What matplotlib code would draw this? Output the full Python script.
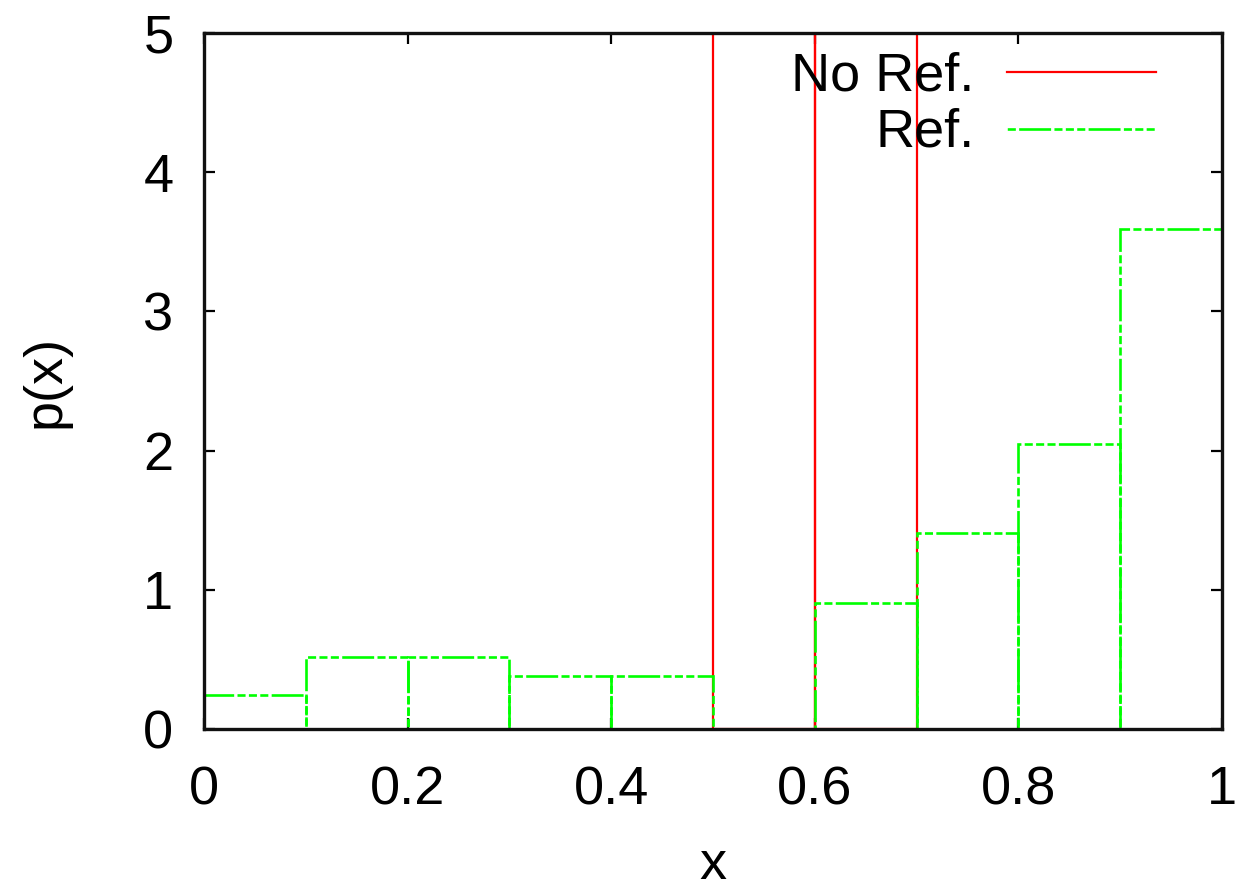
import matplotlib
matplotlib.use("Agg")
import matplotlib.pyplot as plt
import numpy as np

# Data
bin_edges = [0.0, 0.1, 0.2, 0.3, 0.4, 0.5, 0.6, 0.7, 0.8, 0.9, 1.0]
ref_heights = [0.245, 0.52, 0.52, 0.38, 0.38, 0.0, 0.905, 1.41, 2.05, 3.59]
noref_left = [0.5, 0.6]
noref_heights = [5.0, 5.0]
series_labels = ["No Ref.", "Ref."]
x_ticks = [0, 0.2, 0.4, 0.6, 0.8, 1.0]
x_ticklabels = ["0", "0.2", "0.4", "0.6", "0.8", "1"]
y_ticks = [0, 1, 2, 3, 4, 5]

plt.rcParams['font.family'] = ['Liberation Sans', 'DejaVu Sans']
plt.rcParams['lines.scale_dashes'] = False

W, H = 1239, 891
fig = plt.figure(figsize=(W / 100, H / 100), dpi=100)
ax = fig.add_axes([204 / W, 1 - 729 / H, (1222 - 204) / W, (729 - 33) / H])

red = "#ff0000"
green = "#00ff00"
pat = (23, 2.4, 5.8, 2.4, 5.8, 2.4, 5.8, 2.4)
green_ls = (0, pat)
green_ls_legend = (41.6, pat)

FS = 39

ax.bar(noref_left, noref_heights, width=0.1, align='edge', fill=False,
       edgecolor=red, linewidth=1.6, zorder=2)
ax.bar(bin_edges[:-1], ref_heights, width=0.1, align='edge', fill=False,
       edgecolor=green, linewidth=1.9, linestyle=green_ls, zorder=3)

ax.set_xlim(0, 1)
ax.set_ylim(0, 5)
ax.set_xticks(x_ticks)
ax.set_xticklabels(x_ticklabels)
ax.set_yticks(y_ticks)
ax.tick_params(direction='in', length=8, width=1.6, top=True, right=True,
               labelsize=FS)
ax.tick_params(axis='x', pad=26)
ax.tick_params(axis='y', pad=22)
for s in ax.spines.values():
    s.set_linewidth(2.4)
    s.set_color("#111111")
    s.set_zorder(5)

ax.set_xlabel("x", fontsize=FS)
ax.set_ylabel("p(x)", fontsize=FS)
ax.xaxis.set_label_coords(0.5, (729 - 840) / 696)
ax.yaxis.set_label_coords((71 - 204) / 1018, 0.5)

# Legend (gnuplot style: right-aligned text then sample line)
base_y = [0.918, 0.837]
line_y = [0.944, 0.862]
styles = [dict(color=red, lw=1.6, linestyle='-'),
          dict(color=green, lw=1.9, linestyle=green_ls_legend)]
for lab, by, ly, st in zip(series_labels, base_y, line_y, styles):
    ax.text(0.757, by, lab, transform=ax.transAxes, ha='right', va='baseline',
            fontsize=FS, zorder=6)
    ax.plot([0.789, 0.935], [ly, ly], transform=ax.transAxes, clip_on=False,
            zorder=6, **st)

fig.savefig("out.png", dpi=100)
